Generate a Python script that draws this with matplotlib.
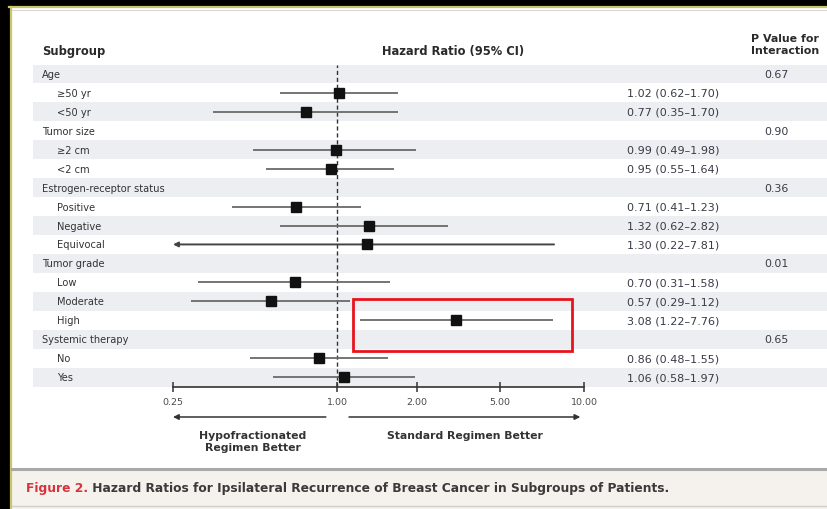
import numpy as np
import matplotlib.pyplot as plt
from matplotlib.patches import Rectangle
from matplotlib.ticker import FixedLocator, NullLocator, FormatStrFormatter
from matplotlib.transforms import blended_transform_factory

plt.rcParams['font.family'] = ['DejaVu Sans']

# rows, top to bottom
labels = ["Age", "≥50 yr", "<50 yr", "Tumor size", "≥2 cm", "<2 cm",
          "Estrogen-receptor status", "Positive", "Negative", "Equivocal",
          "Tumor grade", "Low", "Moderate", "High",
          "Systemic therapy", "No", "Yes"]
is_group = [True, False, False, True, False, False, True, False, False, False,
            True, False, False, False, True, False, False]
hr = [None, 1.02, 0.77, None, 0.99, 0.95, None, 0.71, 1.32, 1.30,
      None, 0.70, 0.57, 3.08, None, 0.86, 1.06]
ci_low = [None, 0.62, 0.35, None, 0.49, 0.55, None, 0.41, 0.62, 0.22,
          None, 0.31, 0.29, 1.22, None, 0.48, 0.58]
ci_high = [None, 1.70, 1.70, None, 1.98, 1.64, None, 1.23, 2.82, 7.81,
           None, 1.58, 1.12, 7.76, None, 1.55, 1.97]
p_interaction = ["0.67", "", "", "0.90", "", "", "0.36", "", "", "",
                 "0.01", "", "", "", "0.65", "", ""]

ticks = [0.25, 1, 2, 5, 10]
tick_gaps = [164, 80, 83, 84]  # uneven spacing of the printed axis
highlight = "High"

W, H = 827, 510
def fx(px):
    return px / W
def fy(py):
    return 1 - py / H

_lt = np.log10(ticks)
_pos = np.concatenate([[0], np.cumsum(tick_gaps)]) / sum(tick_gaps)

def fwd(x):
    x = np.clip(np.asarray(x, dtype=float), 1e-6, None)
    return np.interp(np.log10(x), _lt, _pos)

def inv(y):
    return 10 ** np.interp(np.asarray(y, dtype=float), _pos, _lt)

fig = plt.figure(figsize=(W / 100, H / 100), dpi=100)
fig.patch.set_facecolor('white')

# frame around the card
fig.patches.append(Rectangle((0, fy(7)), 1, 7 / H, transform=fig.transFigure,
                             color='black', zorder=-5))
fig.patches.append(Rectangle((0, 0), 9 / W, 1, transform=fig.transFigure,
                             color='black', zorder=-5))
fig.add_artist(plt.Line2D([fx(9), 1], [fy(8), fy(8)], color='#c9c56a', lw=1.6, zorder=-4))
fig.add_artist(plt.Line2D([fx(10.5), fx(10.5)], [0, fy(8)], color='#c9c56a', lw=1.6, zorder=-4))
fig.add_artist(plt.Line2D([fx(12), 1], [fy(11), fy(11)], color='#d8d8d8', lw=0.8, zorder=-4))

# caption strip
fig.patches.append(Rectangle((fx(11.5), 0), 1, fy(471), transform=fig.transFigure,
                             color='#f5f1ec', zorder=-5))
fig.add_artist(plt.Line2D([fx(11.5), 1], [fy(470), fy(470)], color='#a9a9a9', lw=2.2, zorder=-4))
fig.add_artist(plt.Line2D([fx(11.5), 1], [fy(507), fy(507)], color='#cfcfcf', lw=1, zorder=-4))
t1 = fig.text(fx(26), fy(489), "Figure 2.", color='#d8323c', fontsize=8.8,
              fontweight='bold', va='center')

ax = fig.add_axes([fx(173), fy(387.5), fx(584) - fx(173), (387.5 - 65.5) / H])
ax.patch.set_visible(False)
ax.set_xscale('function', functions=(fwd, inv))
ax.set_xlim(ticks[0], ticks[-1])
ax.set_ylim(len(labels) - 0.5, -0.5)

ax.annotate(" Hazard Ratios for Ipsilateral Recurrence of Breast Cancer in Subgroups of Patients.",
            xy=(1, 0.5), xycoords=t1, va='center', ha='left', fontsize=8.8,
            fontweight='bold', color='#3a3a3a', annotation_clip=False)

row_tr = blended_transform_factory(fig.transFigure, ax.transData)
col_tr = blended_transform_factory(ax.transData, fig.transFigure)

# row shading and text columns
for i, lab in enumerate(labels):
    if i % 2 == 0:
        ax.add_patch(Rectangle((fx(33), i - 0.5), 1 - fx(33), 1, transform=row_tr,
                               color='#eceef1', lw=0, zorder=0, clip_on=False))
    ax.text(fx(42) if is_group[i] else fx(57), i, lab, transform=row_tr,
            va='center', ha='left', fontsize=7.1, color='#333333')
    if hr[i] is not None:
        ax.text(fx(627), i, f"{hr[i]:.2f} ({ci_low[i]:.2f}\u2013{ci_high[i]:.2f})",
                transform=row_tr, va='center', ha='left', fontsize=8.0, color='#3a3a48')
    if p_interaction[i]:
        ax.text(fx(776), i, p_interaction[i], transform=row_tr, va='center',
                ha='center', fontsize=7.9, color='#3a3a48')

# headers
fig.text(fx(42), fy(52), "Subgroup", fontsize=8.3, fontweight='bold', color='#2a2a2a', va='center')
fig.text(fx(453), fy(52), "Hazard Ratio (95% CI)", fontsize=8.3, fontweight='bold',
         color='#2a2a2a', va='center', ha='center')
fig.text(fx(785), fy(45), "P Value for\nInteraction", fontsize=7.9, fontweight='bold',
         color='#2a2a2a', va='center', ha='center', linespacing=1.3)

# reference line
ax.axvline(1, color='#333333', lw=1, ls=(0, (3, 2)), zorder=2)

# confidence intervals and point estimates
xmin = ticks[0]
for i in range(len(labels)):
    if hr[i] is None:
        continue
    if ci_low[i] < xmin:
        ax.annotate('', xy=(xmin, i), xytext=(ci_high[i], i),
                    arrowprops=dict(arrowstyle='-|>', color='#444444', lw=1.4,
                                    mutation_scale=7, shrinkA=0, shrinkB=0),
                    zorder=3, annotation_clip=False)
    else:
        ax.plot([ci_low[i], ci_high[i]], [i, i], color='#6a6a6a', lw=1.3, zorder=3,
                solid_capstyle='butt')
    ax.plot(hr[i], i, marker='s', ms=6.8, color='#111111', zorder=4)

# highlighted subgroup
k = labels.index(highlight)
ax.add_patch(Rectangle((1.15, k - 1.1), 9.06 - 1.15, 2.7, fill=False,
                       edgecolor='#e8141c', lw=2, zorder=5, clip_on=False))

# axis
for s in ['top', 'left', 'right']:
    ax.spines[s].set_visible(False)
ax.spines['bottom'].set_color('#333333')
ax.spines['bottom'].set_linewidth(1.2)
ax.set_yticks([])
ax.xaxis.set_major_locator(FixedLocator(ticks))
ax.xaxis.set_minor_locator(NullLocator())
ax.xaxis.set_major_formatter(FormatStrFormatter('%.2f'))
ax.tick_params(axis='x', direction='inout', length=7, width=1.1, color='#333333',
               labelsize=6.8, labelcolor='#4a4a4a', pad=4)

# direction arrows
ax.annotate('', xy=(0.25, fy(418)), xytext=(0.91, fy(418)), xycoords=col_tr,
            arrowprops=dict(arrowstyle='-|>', color='#333333', lw=1.1, mutation_scale=8,
                            shrinkA=0, shrinkB=0), annotation_clip=False)
ax.annotate('', xy=(9.7, fy(418)), xytext=(1.11, fy(418)), xycoords=col_tr,
            arrowprops=dict(arrowstyle='-|>', color='#333333', lw=1.1, mutation_scale=8,
                            shrinkA=0, shrinkB=0), annotation_clip=False)
ax.text(0.49, fy(431), "Hypofractionated\nRegimen Better", transform=col_tr, ha='center',
        va='top', fontsize=7.8, fontweight='bold', color='#333333', linespacing=1.2)
ax.text(3.4, fy(431), "Standard Regimen Better", transform=col_tr, ha='center',
        va='top', fontsize=7.8, fontweight='bold', color='#333333')

fig.savefig('out.png', dpi=100)
